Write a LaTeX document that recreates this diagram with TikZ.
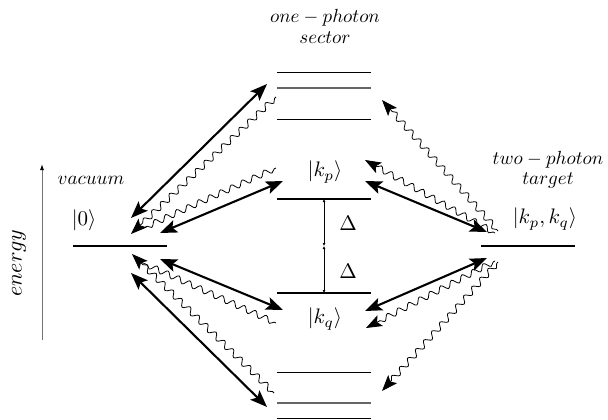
\documentclass[tikz,border=0pt]{standalone}
\usetikzlibrary{arrows.meta,decorations.pathmorphing}
\begin{document}
\begin{tikzpicture}[x=1pt,y=-1pt,
  thicklevel/.style={line width=2.8pt},
  thinlevel/.style={line width=1pt},
  graylevel/.style={line width=1.2pt, black!60},
  dbl/.style={line width=2.1pt, {Stealth[length=17pt,width=13pt,inset=3.5pt]}-{Stealth[length=17pt,width=13pt,inset=3.5pt]}},
  wavyhead/.style={line width=0.8pt, -{Stealth[length=16pt,width=12pt,inset=3.5pt]}, decorate,
     decoration={snake, amplitude=3pt, segment length=12pt, pre length=2pt, post length=11pt}},
  wavyplain/.style={line width=0.8pt, decorate,
     decoration={snake, amplitude=3pt, segment length=12pt, pre length=2pt, post length=3pt}},
  lab/.style={scale=1.9},
  ket/.style={scale=2.1},
  tinyarr/.style={line width=0.9pt, {Latex[length=3pt,width=3pt]}-{Latex[length=3pt,width=3pt]}}]
\useasboundingbox (0,0) rectangle (608,420);

% level end points
\coordinate (v1) at (73,246);  \coordinate (v2) at (167,246);
\coordinate (t1) at (481,246); \coordinate (t2) at (575,246);
\coordinate (p1) at (277,199); \coordinate (p2) at (371,199);
\coordinate (q1) at (277,293); \coordinate (q2) at (371,293);
\coordinate (u1a) at (277,73);  \coordinate (u1b) at (371,73);
\coordinate (u2a) at (277,88);  \coordinate (u2b) at (371,88);
\coordinate (u3a) at (277,119); \coordinate (u3b) at (371,119);
\coordinate (l1a) at (277,372); \coordinate (l1b) at (371,372);
\coordinate (l2a) at (277,403); \coordinate (l2b) at (371,403);
\coordinate (l3a) at (277,418); \coordinate (l3b) at (371,418);

% levels
\draw[thicklevel] (v1) -- (v2);
\draw[thicklevel] (t1) -- (t2);
\draw[thicklevel] (p1) -- (p2);
\draw[thicklevel] (q1) -- (q2);
\draw[thinlevel] (u1a) -- (u1b);
\draw[graylevel] (u2a) -- (u2b);
\draw[thinlevel] (u3a) -- (u3b);
\draw[thinlevel] (l1a) -- (l1b);
\draw[graylevel] (l2a) -- (l2b);
\draw[thinlevel] (l3a) -- (l3b);

% Delta arrows
\coordinate (d1) at (324,199); \coordinate (dm) at (324,246); \coordinate (d2) at (324,293);
\draw[tinyarr] (d1) -- (dm);
\draw[tinyarr] (dm) -- (d2);
\node[ket] (delta1) at (348,223) {$\Delta$};
\node[ket] (delta2) at (348,271) {$\Delta$};

% energy axis
\coordinate (e1) at (42,340); \coordinate (e2) at (42,164);
\draw[black!55, line width=1pt, -{Latex[length=6pt,width=4pt,black]}] (e1) -- (e2);
\node[scale=2.2, rotate=90] (energy) at (19,263) {$energy$};

% labels
\node[lab] (vac) at (91,180) {$vacuum$};
\node[ket] (ket0) at (84,220) {$|0\rangle$};
\node[lab] (one) at (325,18) {$one-photon$};
\node[lab] (sec) at (325,38) {$sector$};
\node[ket] (kp) at (325,172) {$|k_p\rangle$};
\node[ket] (kq) at (325,319) {$|k_q\rangle$};
\node[lab] (two) at (548,160) {$two-photon$};
\node[lab] (tar) at (548,181) {$target$};
\node[ket] (kpq) at (545,219) {$|k_p,k_q\rangle$};

% straight double arrows
\coordinate (a1s) at (131,218); \coordinate (a1e) at (267,84);
\coordinate (a2s) at (160,233); \coordinate (a2e) at (283,181);
\coordinate (a3s) at (160,259); \coordinate (a3e) at (283,310);
\coordinate (a4s) at (131,273); \coordinate (a4e) at (267,407);
\coordinate (a5s) at (365,181); \coordinate (a5e) at (487,232);
\coordinate (a6s) at (365,311); \coordinate (a6e) at (487,258);
\draw[dbl] (a1s) -- (a1e);
\draw[dbl] (a2s) -- (a2e);
\draw[dbl] (a3s) -- (a3e);
\draw[dbl] (a4s) -- (a4e);
\draw[dbl] (a5s) -- (a5e);
\draw[dbl] (a6s) -- (a6e);

% wavy arrows
\coordinate (w1s) at (276,97);  \coordinate (w1e) at (131,234);
\coordinate (w2s) at (276,168); \coordinate (w2e) at (141,229);
\coordinate (w3s) at (276,323); \coordinate (w3e) at (141,262);
\coordinate (w4s) at (274,393); \coordinate (w4e) at (132,254);
\coordinate (w5s) at (498,231); \coordinate (w5e) at (382,100);
\coordinate (w6s) at (495,233); \coordinate (w6e) at (365,160);
\coordinate (w7s) at (495,261); \coordinate (w7e) at (366,328);
\coordinate (w8s) at (498,262); \coordinate (w8e) at (382,391);
\draw[wavyhead] (w1s) -- (w1e);
\draw[wavyplain] (w2s) -- (w2e);
\draw[wavyplain] (w3s) -- (w3e);
\draw[wavyhead] (w4s) -- (w4e);
\draw[wavyhead] (w5s) -- (w5e);
\draw[wavyhead] (w6s) -- (w6e);
\draw[wavyhead] (w7s) -- (w7e);
\draw[wavyhead] (w8s) -- (w8e);
\end{tikzpicture}
\end{document}
